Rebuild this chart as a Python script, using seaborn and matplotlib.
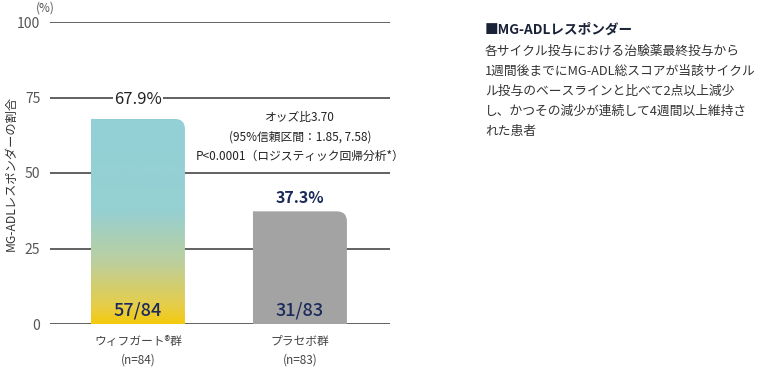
import numpy as np
import matplotlib
matplotlib.use("Agg")
import matplotlib.pyplot as plt
from matplotlib.path import Path
from matplotlib.patches import PathPatch
from matplotlib.colors import LinearSegmentedColormap
import seaborn as sns

sns.set_style("white")
plt.rcParams["font.family"] = ["Noto Sans CJK JP", "DejaVu Sans"]

# --------------------------------------------------------------------------
# Data
# --------------------------------------------------------------------------
groups = ["ウィフガート®群\n(n=84)", "プラセボ群\n(n=83)"]
rates = [67.9, 37.3]
counts = ["57/84", "31/83"]
yticks = [0, 25, 50, 75, 100]
stats_lines = ["オッズ比3.70", "(95%信頼区間：1.85, 7.58)", "P<0.0001（ロジスティック回帰分析*）"]
note_title = "■MG-ADLレスポンダー"
note_lines = ["各サイクル投与における治験薬最終投与から",
              "1週間後までにMG-ADL総スコアが当該サイクル",
              "ル投与のベースラインと比べて2点以上減少",
              "し、かつその減少が連続して4週間以上維持さ",
              "れた患者"]

NAVY = "#1c2b5a"
GRID = "#555555"
grad = LinearSegmentedColormap.from_list(
    "bar", [(0.0, "#f4ca0c"), (0.08, "#e8cd45"), (0.3, "#bccf9e"),
            (0.55, "#96d0d2"), (1.0, "#92d0d7")])

fig = plt.figure(figsize=(7.6, 3.68), dpi=100)
ax = fig.add_axes([50 / 760, 44 / 368, 340 / 760, 302 / 368])

sns.barplot(x=[0, 1], y=rates, width=0.58, color="#a3a3a3", ax=ax, zorder=3)

# replace plain bars by bars with a rounded top-right corner
rx, ry = 10 / 162, 10 / 3.02
for i, bar in enumerate(list(ax.patches)):
    x0, w, h = bar.get_x(), bar.get_width(), bar.get_height()
    x1 = x0 + w
    bar.set_visible(False)
    verts = [(x0, 0), (x0, h), (x1 - rx, h), (x1, h), (x1, h - ry), (x1, 0), (x0, 0)]
    codes = [Path.MOVETO, Path.LINETO, Path.LINETO, Path.CURVE3, Path.CURVE3,
             Path.LINETO, Path.CLOSEPOLY]
    if i == 0:
        patch = PathPatch(Path(verts, codes), facecolor="none", edgecolor="none", zorder=3)
        ax.add_patch(patch)
        img = ax.imshow(np.linspace(0, 1, 256).reshape(-1, 1), cmap=grad, aspect="auto",
                        origin="lower", extent=[x0, x1, 0, h], zorder=3)
        img.set_clip_path(patch)
    else:
        ax.add_patch(PathPatch(Path(verts, codes), facecolor="#a3a3a3",
                               edgecolor="none", zorder=3))

ax.set_xlim(-0.543, 1.556)
ax.set_ylim(0, 100)
ax.set_yticks(yticks)
ax.set_yticklabels([str(t) for t in yticks])
ax.set_xticks([0, 1])
ax.set_xticklabels(groups)
ax.set_xticks([-0.5, 0.5, 1.5], minor=True)
ax.grid(axis="y", color=GRID, lw=1.3, zorder=1)
ax.set_axisbelow(True)
sns.despine(ax=ax, left=True, bottom=True)
ax.tick_params(axis="y", length=0, pad=7, labelsize=10, labelcolor="#555555")
ax.tick_params(axis="x", which="major", length=0, pad=8, labelsize=8.5, labelcolor="#444444")
ax.tick_params(axis="x", which="minor", length=6, width=1, color=GRID, direction="out")
for lab in ax.get_xticklabels():
    lab.set_linespacing(1.5)

fig.text(11 / 760, 1 - 173 / 368, "MG-ADLレスポンダーの割合", rotation=90,
         ha="center", va="center", fontsize=8.8, color="#333333")
ax.text(-0.015, 1.045, "(%)", transform=ax.transAxes, ha="center", va="center",
        fontsize=8.5, color="#555555")

# value labels
ax.text(0, 74.2, f"{rates[0]}%", ha="center", va="center", fontsize=12,
        color="#222222", zorder=4,
        bbox=dict(facecolor="white", edgecolor="none", pad=1))
ax.text(1, 41.7, f"{rates[1]}%", ha="center", va="center", fontsize=11.5,
        color=NAVY, fontweight="bold", zorder=4)
for i, c in enumerate(counts):
    ax.text(i, 4.6, c, ha="center", va="center", fontsize=13, color=NAVY,
            fontweight="medium", zorder=4)

for y, s in zip([68.5, 61.9, 55.6], stats_lines):
    ax.text(1.0, y, s, ha="center", va="center", fontsize=8.5, color="#222222", zorder=4)

# side note
fig.text(485 / 760, 1 - 30 / 368, note_title, ha="left", va="center", fontsize=9.8,
         fontweight="bold", color="#1a2238")
for k, s in enumerate(note_lines):
    fig.text(485 / 760, 1 - (51 + k * 20.2) / 368, s, ha="left", va="center",
             fontsize=9.2, color="#333333")

fig.savefig("out.png", dpi=100)
